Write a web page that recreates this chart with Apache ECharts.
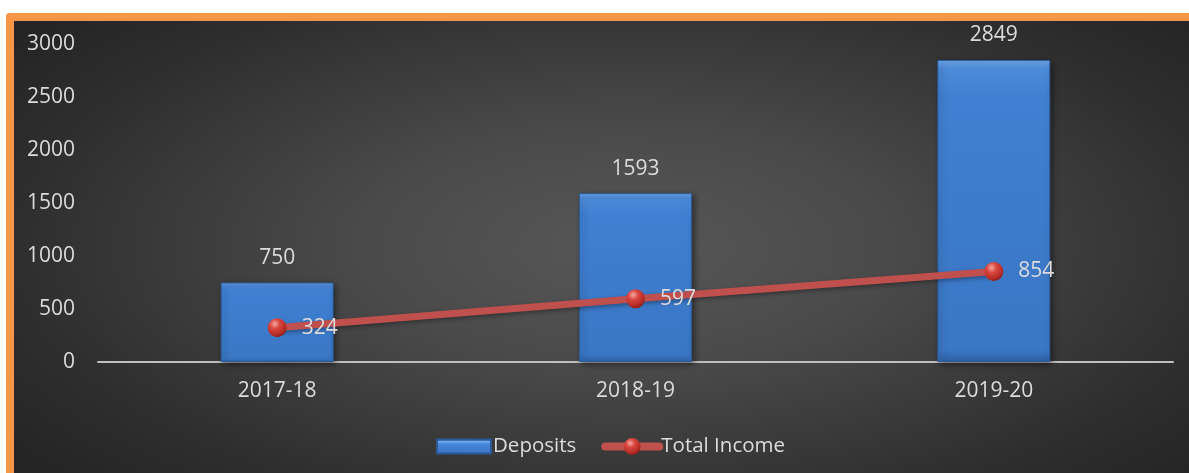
<!DOCTYPE html>
<html>
<head>
<meta charset="utf-8">
<script src="https://cdn.jsdelivr.net/npm/echarts@6/dist/echarts.min.js"></script>
<style>
  html, body { margin:0; padding:0; background:#ffffff; width:1189px; height:473px; overflow:hidden; }
  #frame { position:absolute; left:6px; top:13px; right:0; bottom:0;
    border-left:8px solid #f79646; border-top:8px solid #f79646; border-top-left-radius:4px;
    background: radial-gradient(ellipse 65% 75% at 52% 50%, #575757 0%, #4a4a4a 35%, #2e2e2e 80%, #252525 100%); }
  #chart { position:absolute; left:0; top:0; width:1189px; height:473px; }
</style>
</head>
<body>
<div id="frame"></div>
<div id="chart"></div>
<script>
const categories = ['2017-18', '2018-19', '2019-20'];
const deposits = [750, 1593, 2849];
const totalIncome = [324, 597, 854];
const yTicks = { min: 0, max: 3000, interval: 500 };

const textColor = '#dcdcdc';
const fontFamily = "'Open Sans', 'Noto Sans', sans-serif";

const barColor = {
  type: 'linear', x: 0, y: 0, x2: 0, y2: 1,
  colorStops: [
    { offset: 0, color: '#6fa9ef' },
    { offset: 0.03, color: '#4d8bd9' },
    { offset: 0.12, color: '#3f80d2' },
    { offset: 0.96, color: '#3a76c4' },
    { offset: 1, color: '#2e62a6' }
  ]
};
const sphereColor = {
  type: 'radial', x: 0.38, y: 0.3, r: 0.75,
  colorStops: [
    { offset: 0, color: '#f6a7a3' },
    { offset: 0.35, color: '#d9473f' },
    { offset: 0.8, color: '#b22a25' },
    { offset: 1, color: '#7e1814' }
  ]
};

const chart = echarts.init(document.getElementById('chart'), null, { renderer: 'canvas' });
chart.setOption({
  backgroundColor: 'transparent',
  animation: false,
  textStyle: { fontFamily: fontFamily },
  grid: { left: 98, right: 16, top: 44, bottom: 111, containLabel: false },
  legend: {
    left: 431, top: 430,
    itemWidth: 54, itemHeight: 21, itemGap: 25, itemStyle: {},
    textStyle: { color: textColor, fontSize: 20.5, fontFamily: fontFamily, padding: [0, 0, 0, -3] },
    data: [
      { name: 'Deposits', icon: 'path://M0,0 M0,3.5 L54,3.5 L54,17.5 L0,17.5 Z M54,21',
        itemStyle: { color: { type: 'linear', x: 0, y: 0, x2: 0, y2: 1,
          colorStops: [ { offset: 0, color: '#2f64a8' }, { offset: 0.2, color: '#2f64a8' }, { offset: 0.28, color: '#6fa9ef' }, { offset: 0.4, color: '#4486d8' }, { offset: 0.75, color: '#3b78c6' }, { offset: 0.84, color: '#24518c' }, { offset: 1, color: '#24518c' } ] } } },
      { name: 'Total Income', lineStyle: { width: 8, color: '#c0504d', cap: 'round' } }
    ]
  },
  xAxis: {
    type: 'category',
    data: categories,
    axisLine: { show: true, lineStyle: { color: '#bfbfbf', width: 2 } },
    axisTick: { show: false },
    axisLabel: { color: textColor, fontSize: 21, margin: 19, fontFamily: fontFamily }
  },
  yAxis: {
    type: 'value',
    min: yTicks.min, max: yTicks.max, interval: yTicks.interval,
    axisLine: { show: false },
    axisTick: { show: false },
    splitLine: { show: false },
    axisLabel: { color: textColor, fontSize: 21, margin: 23, fontFamily: fontFamily,
      formatter: function (v) { return String(v); } }
  },
  series: [
    {
      name: 'Deposits',
      type: 'bar',
      data: deposits,
      barWidth: 113,
      itemStyle: {
        color: barColor,
        borderColor: '#2b5a97',
        borderWidth: 1,
        shadowColor: 'rgba(0,0,0,0.45)',
        shadowBlur: 6,
        shadowOffsetX: 2,
        shadowOffsetY: 2
      },
      label: {
        show: true, position: 'top', distance: 14,
        color: textColor, fontSize: 21, fontFamily: fontFamily
      }
    },
    {
      name: 'Total Income',
      type: 'line',
      data: totalIncome,
      symbol: 'circle',
      symbolSize: 19,
      lineStyle: { color: '#c0504d', width: 7, shadowColor: 'rgba(0,0,0,0.35)', shadowBlur: 4, shadowOffsetY: 2 },
      itemStyle: { color: sphereColor, borderWidth: 0 },
      label: {
        show: true, position: 'right', distance: 15,
        color: textColor, fontSize: 21, fontFamily: fontFamily
      }
    }
  ]
});
</script>
</body>
</html>
